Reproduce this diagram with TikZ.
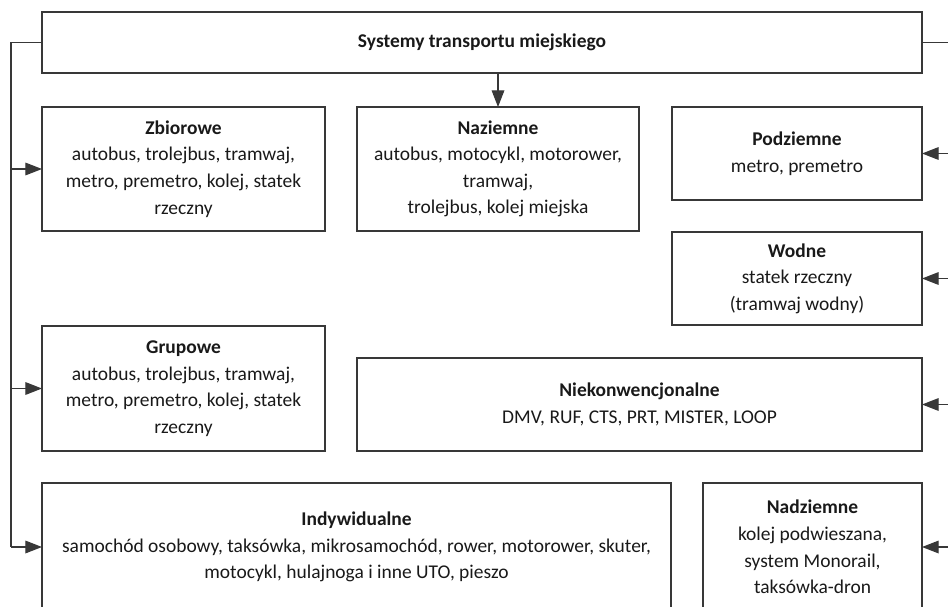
\documentclass[tikz,border=0pt]{standalone}
\usepackage{fontspec}
\setmainfont{Carlito}
\usetikzlibrary{arrows.meta}
\begin{document}
\begin{tikzpicture}[x=0.75pt,y=-0.75pt,
  box/.style={draw=black!78, line width=0.9pt, rectangle, inner sep=0pt, outer sep=0pt, align=center,
    font=\fontsize{14.6}{19.9}\selectfont, text=black!90},
  conn/.style={draw=black!78, line width=0.9pt},
  arr/.style={conn, -{Triangle[length=12.5pt,width=9.5pt]}}
]
\useasboundingbox (0,0) rectangle (948,606);
\clip (0,0) rectangle (948,606);
\node[box, minimum width=660pt, minimum height=45.75pt] (top) at (482,42.5) {\textbf{Systemy transportu miejskiego}};
\node[box, minimum width=212.25pt, minimum height=93pt] (zb) at (183.5,169) {\textbf{Zbiorowe}\\autobus, trolejbus, tramwaj,\\metro, premetro, kolej, statek\\rzeczny};
\node[box, minimum width=211.5pt, minimum height=93pt] (naz) at (498,169) {\textbf{Naziemne}\\autobus, motocykl, motorower,\\tramwaj,\\trolejbus, kolej miejska};
\node[box, minimum width=187.5pt, minimum height=69.75pt] (pod) at (797,153.5) {\textbf{Podziemne}\\metro, premetro};
\node[box, minimum width=187.5pt, minimum height=69.75pt] (wod) at (797,278.5) {\textbf{Wodne}\\statek rzeczny\\(tramwaj wodny)};
\node[box, minimum width=212.25pt, minimum height=93.75pt] (grp) at (183.5,388.5) {\textbf{Grupowe}\\autobus, trolejbus, tramwaj,\\metro, premetro, kolej, statek\\rzeczny};
\node[box, minimum width=423.75pt, minimum height=69.75pt] (niek) at (639.5,404.5) {\textbf{Niekonwencjonalne}\\DMV, RUF, CTS, PRT, MISTER, LOOP};
\node[box, minimum width=471.75pt, minimum height=96pt] (ind) at (356.5,547) {\textbf{Indywidualne}\\samochód osobowy, taksówka, mikrosamochód, rower, motorower, skuter,\\motocykl, hulajnoga i inne UTO, pieszo};
\node[box, minimum width=164.25pt, minimum height=96pt] (nad) at (812.5,547) {\textbf{Nadziemne}\\kolej podwieszana,\\system Monorail,\\taksówka-dron};
% left bus
\coordinate (lt) at (11,42.5);
\coordinate (lb) at (11,547);
\draw[conn] (top.west) -- (lt) -- (lb);
\draw[arr] (lt |- zb.west) -- (zb.west);
\draw[arr] (lt |- grp.west) -- (grp.west);
\draw[arr] (lb) -- (ind.west);
% right bus
\coordinate (rt) at (952,42.5);
\coordinate (rb) at (952,547);
\draw[conn] (top.east) -- (rt) -- (rb);
\draw[arr] (rt |- pod.east) -- (pod.east);
\draw[arr] (rt |- wod.east) -- (wod.east);
\draw[arr] (rt |- niek.east) -- (niek.east);
\draw[arr] (rb) -- (nad.east);
% down arrow
\draw[arr] (top.south -| naz.north) -- (naz.north);
\end{tikzpicture}
\end{document}
